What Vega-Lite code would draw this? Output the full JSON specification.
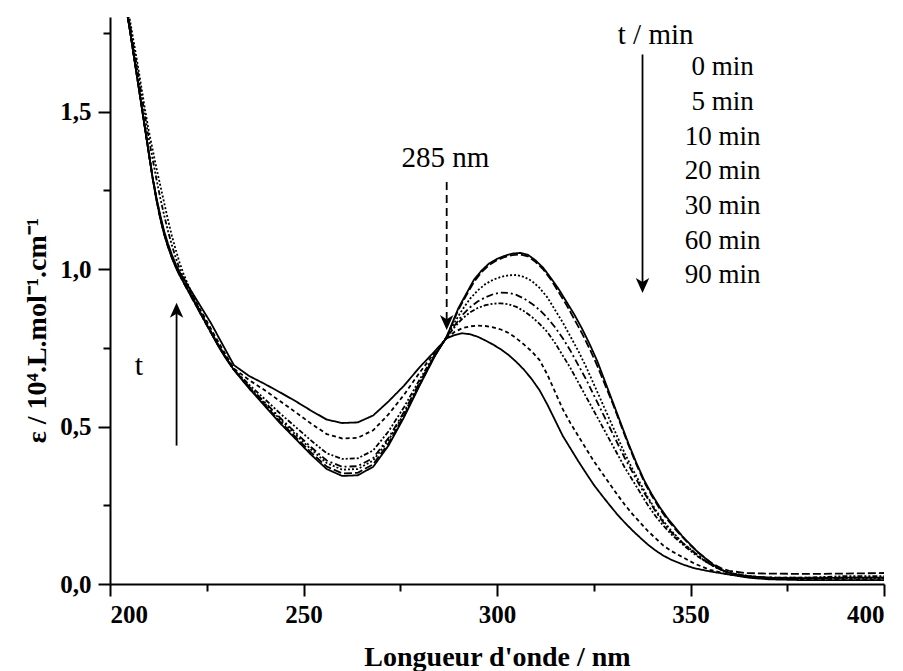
{
  "$schema": "https://vega.github.io/schema/vega-lite/v6.json",
  "width": 774,
  "height": 567,
  "autosize": "none",
  "padding": {"left": 110, "top": 17, "right": 19, "bottom": 87},
  "background": "white",
  "config": {
    "view": {"stroke": null},
    "font": "Liberation Serif",
    "axis": {
      "grid": false,
      "domainColor": "black",
      "domainWidth": 2,
      "tickColor": "black",
      "tickWidth": 2,
      "labelFont": "Liberation Serif",
      "labelFontWeight": "bold",
      "labelFontSize": 25,
      "labelColor": "black",
      "titleFont": "Liberation Serif",
      "titleFontWeight": "bold",
      "titleFontSize": 28,
      "titleColor": "black"
    }
  },
  "datasets": {
    "spectra": [
      {"t":"0 min","nm":204,"e":1.84},{"t":"0 min","nm":205,"e":1.77},{"t":"0 min","nm":206,"e":1.69},{"t":"0 min","nm":207,"e":1.61},{"t":"0 min","nm":208,"e":1.53},{"t":"0 min","nm":209,"e":1.45},{"t":"0 min","nm":210,"e":1.37},{"t":"0 min","nm":211,"e":1.29},{"t":"0 min","nm":212,"e":1.22},{"t":"0 min","nm":213,"e":1.16},{"t":"0 min","nm":214,"e":1.11},{"t":"0 min","nm":215,"e":1.07},{"t":"0 min","nm":216,"e":1.035},{"t":"0 min","nm":217,"e":1.005},{"t":"0 min","nm":218,"e":0.98},{"t":"0 min","nm":220,"e":0.935},{"t":"0 min","nm":222,"e":0.89},{"t":"0 min","nm":224,"e":0.845},{"t":"0 min","nm":226,"e":0.8},{"t":"0 min","nm":228,"e":0.755},{"t":"0 min","nm":230,"e":0.715},
      {"t":"0 min","nm":232,"e":0.68},{"t":"0 min","nm":236,"e":0.62},{"t":"0 min","nm":240,"e":0.565},{"t":"0 min","nm":244,"e":0.51},{"t":"0 min","nm":248,"e":0.46},{"t":"0 min","nm":252,"e":0.41},{"t":"0 min","nm":256,"e":0.365},{"t":"0 min","nm":260,"e":0.343},{"t":"0 min","nm":264,"e":0.345},{"t":"0 min","nm":268,"e":0.372},{"t":"0 min","nm":272,"e":0.44},{"t":"0 min","nm":276,"e":0.53},{"t":"0 min","nm":280,"e":0.63},{"t":"0 min","nm":284,"e":0.725},{"t":"0 min","nm":287,"e":0.785},{"t":"0 min","nm":290,"e":0.875},{"t":"0 min","nm":292,"e":0.92},{"t":"0 min","nm":294,"e":0.965},{"t":"0 min","nm":296,"e":0.995},{"t":"0 min","nm":298,"e":1.018},{"t":"0 min","nm":300,"e":1.032},{"t":"0 min","nm":302,"e":1.042},{"t":"0 min","nm":304,"e":1.049},{"t":"0 min","nm":306,"e":1.051},{"t":"0 min","nm":308,"e":1.045},{"t":"0 min","nm":310,"e":1.027},{"t":"0 min","nm":312,"e":1.003},{"t":"0 min","nm":314,"e":0.97},{"t":"0 min","nm":316,"e":0.935},{"t":"0 min","nm":318,"e":0.895},{"t":"0 min","nm":320,"e":0.855},{"t":"0 min","nm":322,"e":0.81},{"t":"0 min","nm":324,"e":0.76},{"t":"0 min","nm":326,"e":0.705},{"t":"0 min","nm":328,"e":0.64},{"t":"0 min","nm":330,"e":0.575},{"t":"0 min","nm":332,"e":0.51},{"t":"0 min","nm":334,"e":0.445},{"t":"0 min","nm":336,"e":0.385},{"t":"0 min","nm":338,"e":0.33},{"t":"0 min","nm":340,"e":0.285},{"t":"0 min","nm":342,"e":0.245},{"t":"0 min","nm":344,"e":0.21},{"t":"0 min","nm":346,"e":0.18},{"t":"0 min","nm":348,"e":0.15},{"t":"0 min","nm":350,"e":0.125},{"t":"0 min","nm":352,"e":0.1},{"t":"0 min","nm":354,"e":0.08},{"t":"0 min","nm":356,"e":0.06},{"t":"0 min","nm":358,"e":0.045},{"t":"0 min","nm":360,"e":0.035},{"t":"0 min","nm":364,"e":0.025},{"t":"0 min","nm":370,"e":0.02},{"t":"0 min","nm":380,"e":0.018},{"t":"0 min","nm":390,"e":0.02},{"t":"0 min","nm":400,"e":0.02},

      {"t":"5 min","nm":204,"e":1.84},{"t":"5 min","nm":205,"e":1.77},{"t":"5 min","nm":206,"e":1.69},{"t":"5 min","nm":207,"e":1.61},{"t":"5 min","nm":208,"e":1.53},{"t":"5 min","nm":209,"e":1.45},{"t":"5 min","nm":210,"e":1.37},{"t":"5 min","nm":211,"e":1.29},{"t":"5 min","nm":212,"e":1.22},{"t":"5 min","nm":213,"e":1.16},{"t":"5 min","nm":214,"e":1.11},{"t":"5 min","nm":215,"e":1.07},{"t":"5 min","nm":216,"e":1.038},{"t":"5 min","nm":217,"e":1.008},{"t":"5 min","nm":218,"e":0.982},{"t":"5 min","nm":220,"e":0.936},{"t":"5 min","nm":222,"e":0.89},{"t":"5 min","nm":224,"e":0.845},{"t":"5 min","nm":226,"e":0.8},{"t":"5 min","nm":228,"e":0.756},{"t":"5 min","nm":230,"e":0.716},
      {"t":"5 min","nm":232,"e":0.68},{"t":"5 min","nm":236,"e":0.622},{"t":"5 min","nm":240,"e":0.569},{"t":"5 min","nm":244,"e":0.515},{"t":"5 min","nm":248,"e":0.466},{"t":"5 min","nm":252,"e":0.417},{"t":"5 min","nm":256,"e":0.373},{"t":"5 min","nm":260,"e":0.351},{"t":"5 min","nm":264,"e":0.353},{"t":"5 min","nm":268,"e":0.38},{"t":"5 min","nm":272,"e":0.447},{"t":"5 min","nm":276,"e":0.535},{"t":"5 min","nm":280,"e":0.633},{"t":"5 min","nm":284,"e":0.726},{"t":"5 min","nm":287,"e":0.785},{"t":"5 min","nm":290,"e":0.87},{"t":"5 min","nm":292,"e":0.915},{"t":"5 min","nm":294,"e":0.958},{"t":"5 min","nm":296,"e":0.99},{"t":"5 min","nm":298,"e":1.013},{"t":"5 min","nm":300,"e":1.028},{"t":"5 min","nm":302,"e":1.038},{"t":"5 min","nm":304,"e":1.044},{"t":"5 min","nm":306,"e":1.046},{"t":"5 min","nm":308,"e":1.04},{"t":"5 min","nm":310,"e":1.022},{"t":"5 min","nm":312,"e":0.998},{"t":"5 min","nm":314,"e":0.965},{"t":"5 min","nm":316,"e":0.925},{"t":"5 min","nm":318,"e":0.885},{"t":"5 min","nm":320,"e":0.84},{"t":"5 min","nm":322,"e":0.795},{"t":"5 min","nm":324,"e":0.745},{"t":"5 min","nm":326,"e":0.69},{"t":"5 min","nm":328,"e":0.63},{"t":"5 min","nm":330,"e":0.57},{"t":"5 min","nm":332,"e":0.505},{"t":"5 min","nm":334,"e":0.44},{"t":"5 min","nm":336,"e":0.38},{"t":"5 min","nm":338,"e":0.325},{"t":"5 min","nm":340,"e":0.28},{"t":"5 min","nm":342,"e":0.24},{"t":"5 min","nm":344,"e":0.205},{"t":"5 min","nm":346,"e":0.175},{"t":"5 min","nm":348,"e":0.148},{"t":"5 min","nm":350,"e":0.123},{"t":"5 min","nm":352,"e":0.1},{"t":"5 min","nm":354,"e":0.08},{"t":"5 min","nm":356,"e":0.062},{"t":"5 min","nm":358,"e":0.05},{"t":"5 min","nm":360,"e":0.042},{"t":"5 min","nm":364,"e":0.035},{"t":"5 min","nm":370,"e":0.033},{"t":"5 min","nm":380,"e":0.032},{"t":"5 min","nm":390,"e":0.033},{"t":"5 min","nm":400,"e":0.035},

      {"t":"10 min","nm":204,"e":1.87},{"t":"10 min","nm":205,"e":1.8},{"t":"10 min","nm":206,"e":1.73},{"t":"10 min","nm":207,"e":1.66},{"t":"10 min","nm":208,"e":1.585},{"t":"10 min","nm":209,"e":1.51},{"t":"10 min","nm":210,"e":1.44},{"t":"10 min","nm":211,"e":1.38},{"t":"10 min","nm":212,"e":1.32},{"t":"10 min","nm":213,"e":1.265},{"t":"10 min","nm":214,"e":1.21},{"t":"10 min","nm":215,"e":1.155},{"t":"10 min","nm":216,"e":1.105},{"t":"10 min","nm":217,"e":1.06},{"t":"10 min","nm":218,"e":1.02},{"t":"10 min","nm":219,"e":0.985},{"t":"10 min","nm":220,"e":0.955},{"t":"10 min","nm":222,"e":0.9},{"t":"10 min","nm":224,"e":0.85},{"t":"10 min","nm":226,"e":0.803},{"t":"10 min","nm":228,"e":0.758},{"t":"10 min","nm":230,"e":0.718},
      {"t":"10 min","nm":232,"e":0.68},{"t":"10 min","nm":236,"e":0.625},{"t":"10 min","nm":240,"e":0.573},{"t":"10 min","nm":244,"e":0.522},{"t":"10 min","nm":248,"e":0.474},{"t":"10 min","nm":252,"e":0.427},{"t":"10 min","nm":256,"e":0.384},{"t":"10 min","nm":260,"e":0.363},{"t":"10 min","nm":264,"e":0.365},{"t":"10 min","nm":268,"e":0.392},{"t":"10 min","nm":272,"e":0.457},{"t":"10 min","nm":276,"e":0.542},{"t":"10 min","nm":280,"e":0.637},{"t":"10 min","nm":284,"e":0.727},{"t":"10 min","nm":287,"e":0.785},{"t":"10 min","nm":289,"e":0.83},{"t":"10 min","nm":291,"e":0.87},{"t":"10 min","nm":293,"e":0.905},{"t":"10 min","nm":295,"e":0.932},{"t":"10 min","nm":297,"e":0.952},{"t":"10 min","nm":299,"e":0.966},{"t":"10 min","nm":301,"e":0.975},{"t":"10 min","nm":303,"e":0.98},{"t":"10 min","nm":305,"e":0.981},{"t":"10 min","nm":307,"e":0.975},{"t":"10 min","nm":309,"e":0.962},{"t":"10 min","nm":311,"e":0.94},{"t":"10 min","nm":313,"e":0.91},{"t":"10 min","nm":315,"e":0.87},{"t":"10 min","nm":317,"e":0.83},{"t":"10 min","nm":319,"e":0.785},{"t":"10 min","nm":321,"e":0.74},{"t":"10 min","nm":323,"e":0.69},{"t":"10 min","nm":325,"e":0.635},{"t":"10 min","nm":327,"e":0.58},{"t":"10 min","nm":329,"e":0.525},{"t":"10 min","nm":331,"e":0.47},{"t":"10 min","nm":333,"e":0.415},{"t":"10 min","nm":335,"e":0.365},{"t":"10 min","nm":337,"e":0.32},{"t":"10 min","nm":339,"e":0.275},{"t":"10 min","nm":341,"e":0.235},{"t":"10 min","nm":343,"e":0.2},{"t":"10 min","nm":345,"e":0.17},{"t":"10 min","nm":348,"e":0.13},{"t":"10 min","nm":351,"e":0.1},{"t":"10 min","nm":354,"e":0.07},{"t":"10 min","nm":357,"e":0.05},{"t":"10 min","nm":360,"e":0.035},{"t":"10 min","nm":365,"e":0.025},{"t":"10 min","nm":370,"e":0.02},{"t":"10 min","nm":380,"e":0.018},{"t":"10 min","nm":390,"e":0.018},{"t":"10 min","nm":400,"e":0.018},

      {"t":"20 min","nm":204,"e":1.84},{"t":"20 min","nm":205,"e":1.77},{"t":"20 min","nm":206,"e":1.69},{"t":"20 min","nm":207,"e":1.612},{"t":"20 min","nm":208,"e":1.532},{"t":"20 min","nm":209,"e":1.452},{"t":"20 min","nm":210,"e":1.372},{"t":"20 min","nm":211,"e":1.295},{"t":"20 min","nm":212,"e":1.225},{"t":"20 min","nm":213,"e":1.165},{"t":"20 min","nm":214,"e":1.113},{"t":"20 min","nm":215,"e":1.072},{"t":"20 min","nm":216,"e":1.036},{"t":"20 min","nm":217,"e":1.005},{"t":"20 min","nm":218,"e":0.98},{"t":"20 min","nm":220,"e":0.934},{"t":"20 min","nm":222,"e":0.889},{"t":"20 min","nm":224,"e":0.844},{"t":"20 min","nm":226,"e":0.8},{"t":"20 min","nm":228,"e":0.756},{"t":"20 min","nm":230,"e":0.717},
      {"t":"20 min","nm":232,"e":0.681},{"t":"20 min","nm":236,"e":0.626},{"t":"20 min","nm":240,"e":0.577},{"t":"20 min","nm":244,"e":0.527},{"t":"20 min","nm":248,"e":0.48},{"t":"20 min","nm":252,"e":0.434},{"t":"20 min","nm":256,"e":0.392},{"t":"20 min","nm":260,"e":0.372},{"t":"20 min","nm":264,"e":0.374},{"t":"20 min","nm":268,"e":0.4},{"t":"20 min","nm":272,"e":0.464},{"t":"20 min","nm":276,"e":0.547},{"t":"20 min","nm":280,"e":0.64},{"t":"20 min","nm":284,"e":0.728},{"t":"20 min","nm":287,"e":0.784},{"t":"20 min","nm":289,"e":0.82},{"t":"20 min","nm":291,"e":0.853},{"t":"20 min","nm":293,"e":0.878},{"t":"20 min","nm":295,"e":0.897},{"t":"20 min","nm":297,"e":0.91},{"t":"20 min","nm":299,"e":0.92},{"t":"20 min","nm":301,"e":0.925},{"t":"20 min","nm":303,"e":0.924},{"t":"20 min","nm":305,"e":0.918},{"t":"20 min","nm":307,"e":0.906},{"t":"20 min","nm":309,"e":0.89},{"t":"20 min","nm":311,"e":0.87},{"t":"20 min","nm":313,"e":0.845},{"t":"20 min","nm":315,"e":0.815},{"t":"20 min","nm":317,"e":0.78},{"t":"20 min","nm":319,"e":0.74},{"t":"20 min","nm":321,"e":0.695},{"t":"20 min","nm":323,"e":0.65},{"t":"20 min","nm":325,"e":0.6},{"t":"20 min","nm":327,"e":0.55},{"t":"20 min","nm":329,"e":0.5},{"t":"20 min","nm":331,"e":0.45},{"t":"20 min","nm":333,"e":0.4},{"t":"20 min","nm":335,"e":0.355},{"t":"20 min","nm":337,"e":0.31},{"t":"20 min","nm":339,"e":0.27},{"t":"20 min","nm":341,"e":0.23},{"t":"20 min","nm":343,"e":0.195},{"t":"20 min","nm":345,"e":0.165},{"t":"20 min","nm":348,"e":0.13},{"t":"20 min","nm":351,"e":0.1},{"t":"20 min","nm":354,"e":0.072},{"t":"20 min","nm":357,"e":0.05},{"t":"20 min","nm":360,"e":0.035},{"t":"20 min","nm":365,"e":0.025},{"t":"20 min","nm":370,"e":0.02},{"t":"20 min","nm":380,"e":0.02},{"t":"20 min","nm":390,"e":0.02},{"t":"20 min","nm":400,"e":0.02},

      {"t":"30 min","nm":204,"e":1.86},{"t":"30 min","nm":205,"e":1.79},{"t":"30 min","nm":206,"e":1.715},{"t":"30 min","nm":207,"e":1.64},{"t":"30 min","nm":208,"e":1.565},{"t":"30 min","nm":209,"e":1.49},{"t":"30 min","nm":210,"e":1.415},{"t":"30 min","nm":211,"e":1.35},{"t":"30 min","nm":212,"e":1.285},{"t":"30 min","nm":213,"e":1.225},{"t":"30 min","nm":214,"e":1.17},{"t":"30 min","nm":215,"e":1.12},{"t":"30 min","nm":216,"e":1.075},{"t":"30 min","nm":217,"e":1.035},{"t":"30 min","nm":218,"e":1.0},{"t":"30 min","nm":220,"e":0.945},{"t":"30 min","nm":222,"e":0.895},{"t":"30 min","nm":224,"e":0.848},{"t":"30 min","nm":226,"e":0.803},{"t":"30 min","nm":228,"e":0.76},{"t":"30 min","nm":230,"e":0.72},
      {"t":"30 min","nm":232,"e":0.682},{"t":"30 min","nm":236,"e":0.632},{"t":"30 min","nm":240,"e":0.587},{"t":"30 min","nm":244,"e":0.541},{"t":"30 min","nm":248,"e":0.498},{"t":"30 min","nm":252,"e":0.455},{"t":"30 min","nm":256,"e":0.415},{"t":"30 min","nm":260,"e":0.397},{"t":"30 min","nm":264,"e":0.399},{"t":"30 min","nm":268,"e":0.424},{"t":"30 min","nm":272,"e":0.485},{"t":"30 min","nm":276,"e":0.562},{"t":"30 min","nm":280,"e":0.649},{"t":"30 min","nm":284,"e":0.73},{"t":"30 min","nm":287,"e":0.783},{"t":"30 min","nm":289,"e":0.815},{"t":"30 min","nm":291,"e":0.842},{"t":"30 min","nm":293,"e":0.862},{"t":"30 min","nm":295,"e":0.876},{"t":"30 min","nm":297,"e":0.885},{"t":"30 min","nm":299,"e":0.89},{"t":"30 min","nm":301,"e":0.891},{"t":"30 min","nm":303,"e":0.888},{"t":"30 min","nm":305,"e":0.88},{"t":"30 min","nm":307,"e":0.866},{"t":"30 min","nm":309,"e":0.848},{"t":"30 min","nm":311,"e":0.826},{"t":"30 min","nm":313,"e":0.8},{"t":"30 min","nm":315,"e":0.765},{"t":"30 min","nm":317,"e":0.725},{"t":"30 min","nm":319,"e":0.685},{"t":"30 min","nm":321,"e":0.64},{"t":"30 min","nm":323,"e":0.595},{"t":"30 min","nm":325,"e":0.55},{"t":"30 min","nm":327,"e":0.505},{"t":"30 min","nm":329,"e":0.46},{"t":"30 min","nm":331,"e":0.415},{"t":"30 min","nm":333,"e":0.37},{"t":"30 min","nm":335,"e":0.33},{"t":"30 min","nm":337,"e":0.29},{"t":"30 min","nm":339,"e":0.25},{"t":"30 min","nm":341,"e":0.215},{"t":"30 min","nm":343,"e":0.185},{"t":"30 min","nm":345,"e":0.158},{"t":"30 min","nm":348,"e":0.125},{"t":"30 min","nm":351,"e":0.095},{"t":"30 min","nm":354,"e":0.07},{"t":"30 min","nm":357,"e":0.05},{"t":"30 min","nm":360,"e":0.035},{"t":"30 min","nm":365,"e":0.025},{"t":"30 min","nm":370,"e":0.02},{"t":"30 min","nm":380,"e":0.02},{"t":"30 min","nm":390,"e":0.025},{"t":"30 min","nm":400,"e":0.025},

      {"t":"60 min","nm":204,"e":1.84},{"t":"60 min","nm":205,"e":1.77},{"t":"60 min","nm":206,"e":1.69},{"t":"60 min","nm":207,"e":1.61},{"t":"60 min","nm":208,"e":1.53},{"t":"60 min","nm":209,"e":1.45},{"t":"60 min","nm":210,"e":1.37},{"t":"60 min","nm":211,"e":1.29},{"t":"60 min","nm":212,"e":1.222},{"t":"60 min","nm":213,"e":1.163},{"t":"60 min","nm":214,"e":1.113},{"t":"60 min","nm":215,"e":1.073},{"t":"60 min","nm":216,"e":1.04},{"t":"60 min","nm":217,"e":1.01},{"t":"60 min","nm":218,"e":0.985},{"t":"60 min","nm":220,"e":0.942},{"t":"60 min","nm":222,"e":0.9},{"t":"60 min","nm":224,"e":0.857},{"t":"60 min","nm":226,"e":0.812},{"t":"60 min","nm":228,"e":0.768},{"t":"60 min","nm":230,"e":0.726},
      {"t":"60 min","nm":232,"e":0.684},{"t":"60 min","nm":236,"e":0.647},{"t":"60 min","nm":240,"e":0.615},{"t":"60 min","nm":244,"e":0.58},{"t":"60 min","nm":248,"e":0.545},{"t":"60 min","nm":252,"e":0.509},{"t":"60 min","nm":256,"e":0.476},{"t":"60 min","nm":260,"e":0.462},{"t":"60 min","nm":264,"e":0.464},{"t":"60 min","nm":268,"e":0.488},{"t":"60 min","nm":272,"e":0.539},{"t":"60 min","nm":276,"e":0.601},{"t":"60 min","nm":280,"e":0.671},{"t":"60 min","nm":284,"e":0.736},{"t":"60 min","nm":287,"e":0.781},{"t":"60 min","nm":289,"e":0.8},{"t":"60 min","nm":291,"e":0.812},{"t":"60 min","nm":293,"e":0.818},{"t":"60 min","nm":295,"e":0.82},{"t":"60 min","nm":297,"e":0.819},{"t":"60 min","nm":299,"e":0.815},{"t":"60 min","nm":301,"e":0.808},{"t":"60 min","nm":303,"e":0.797},{"t":"60 min","nm":305,"e":0.78},{"t":"60 min","nm":307,"e":0.76},{"t":"60 min","nm":309,"e":0.738},{"t":"60 min","nm":311,"e":0.711},{"t":"60 min","nm":313,"e":0.665},{"t":"60 min","nm":315,"e":0.61},{"t":"60 min","nm":317,"e":0.555},{"t":"60 min","nm":319,"e":0.51},{"t":"60 min","nm":321,"e":0.47},{"t":"60 min","nm":323,"e":0.43},{"t":"60 min","nm":325,"e":0.39},{"t":"60 min","nm":327,"e":0.355},{"t":"60 min","nm":329,"e":0.32},{"t":"60 min","nm":331,"e":0.285},{"t":"60 min","nm":333,"e":0.252},{"t":"60 min","nm":335,"e":0.222},{"t":"60 min","nm":337,"e":0.195},{"t":"60 min","nm":339,"e":0.168},{"t":"60 min","nm":341,"e":0.145},{"t":"60 min","nm":343,"e":0.122},{"t":"60 min","nm":345,"e":0.105},{"t":"60 min","nm":348,"e":0.085},{"t":"60 min","nm":351,"e":0.065},{"t":"60 min","nm":355,"e":0.045},{"t":"60 min","nm":360,"e":0.03},{"t":"60 min","nm":365,"e":0.022},{"t":"60 min","nm":370,"e":0.018},{"t":"60 min","nm":380,"e":0.015},{"t":"60 min","nm":390,"e":0.015},{"t":"60 min","nm":400,"e":0.015},

      {"t":"90 min","nm":204,"e":1.84},{"t":"90 min","nm":205,"e":1.77},{"t":"90 min","nm":206,"e":1.69},{"t":"90 min","nm":207,"e":1.61},{"t":"90 min","nm":208,"e":1.53},{"t":"90 min","nm":209,"e":1.45},{"t":"90 min","nm":210,"e":1.37},{"t":"90 min","nm":211,"e":1.29},{"t":"90 min","nm":212,"e":1.225},{"t":"90 min","nm":213,"e":1.17},{"t":"90 min","nm":214,"e":1.12},{"t":"90 min","nm":215,"e":1.08},{"t":"90 min","nm":216,"e":1.045},{"t":"90 min","nm":217,"e":1.015},{"t":"90 min","nm":218,"e":0.99},{"t":"90 min","nm":220,"e":0.95},{"t":"90 min","nm":222,"e":0.91},{"t":"90 min","nm":224,"e":0.87},{"t":"90 min","nm":226,"e":0.83},{"t":"90 min","nm":228,"e":0.785},{"t":"90 min","nm":230,"e":0.74},
      {"t":"90 min","nm":232,"e":0.695},{"t":"90 min","nm":236,"e":0.66},{"t":"90 min","nm":240,"e":0.635},{"t":"90 min","nm":244,"e":0.608},{"t":"90 min","nm":248,"e":0.58},{"t":"90 min","nm":252,"e":0.55},{"t":"90 min","nm":256,"e":0.522},{"t":"90 min","nm":260,"e":0.511},{"t":"90 min","nm":264,"e":0.513},{"t":"90 min","nm":268,"e":0.535},{"t":"90 min","nm":272,"e":0.58},{"t":"90 min","nm":276,"e":0.63},{"t":"90 min","nm":280,"e":0.688},{"t":"90 min","nm":284,"e":0.74},{"t":"90 min","nm":287,"e":0.78},{"t":"90 min","nm":289,"e":0.79},{"t":"90 min","nm":291,"e":0.796},{"t":"90 min","nm":293,"e":0.793},{"t":"90 min","nm":295,"e":0.785},{"t":"90 min","nm":297,"e":0.773},{"t":"90 min","nm":299,"e":0.76},{"t":"90 min","nm":301,"e":0.745},{"t":"90 min","nm":303,"e":0.727},{"t":"90 min","nm":305,"e":0.705},{"t":"90 min","nm":307,"e":0.68},{"t":"90 min","nm":309,"e":0.65},{"t":"90 min","nm":311,"e":0.615},{"t":"90 min","nm":313,"e":0.57},{"t":"90 min","nm":315,"e":0.52},{"t":"90 min","nm":317,"e":0.47},{"t":"90 min","nm":319,"e":0.43},{"t":"90 min","nm":321,"e":0.39},{"t":"90 min","nm":323,"e":0.352},{"t":"90 min","nm":325,"e":0.315},{"t":"90 min","nm":327,"e":0.283},{"t":"90 min","nm":329,"e":0.252},{"t":"90 min","nm":331,"e":0.222},{"t":"90 min","nm":333,"e":0.195},{"t":"90 min","nm":335,"e":0.17},{"t":"90 min","nm":337,"e":0.147},{"t":"90 min","nm":339,"e":0.125},{"t":"90 min","nm":341,"e":0.106},{"t":"90 min","nm":343,"e":0.09},{"t":"90 min","nm":345,"e":0.077},{"t":"90 min","nm":348,"e":0.062},{"t":"90 min","nm":351,"e":0.05},{"t":"90 min","nm":355,"e":0.04},{"t":"90 min","nm":360,"e":0.03},{"t":"90 min","nm":365,"e":0.02},{"t":"90 min","nm":370,"e":0.015},{"t":"90 min","nm":380,"e":0.012},{"t":"90 min","nm":390,"e":0.012},{"t":"90 min","nm":400,"e":0.012}
    ]
  },
  "resolve": {"axis": {"x": "independent", "y": "independent"}},
  "layer": [
    {
      "data": {"name": "spectra"},
      "mark": {"type": "line", "color": "black", "strokeWidth": 1.8, "clip": true},
      "encoding": {
        "x": {"field": "nm", "type": "quantitative",
          "scale": {"domain": [200, 400], "nice": false, "zero": false},
          "axis": {"orient": "bottom", "values": [200, 250, 300, 350, 400], "tickSize": 12, "labelPadding": 6,
            "title": "Longueur d'onde / nm", "titleX": 387, "titleY": 81, "titleAlign": "center", "titleBaseline": "alphabetic", "titleAnchor": null}},
        "y": {"field": "e", "type": "quantitative",
          "scale": {"domain": [0, 1.8], "nice": false, "zero": false},
          "axis": {"orient": "left", "values": [0, 0.5, 1, 1.5], "tickSize": 12, "labelPadding": 7,
            "labelExpr": "replace(format(datum.value, '.1f'), '.', ',')",
            "title": "ε / 10⁴.L.mol⁻¹.cm⁻¹", "titleX": -65, "titleY": 313, "titleAngle": -90, "titleAlign": "center", "titleBaseline": "alphabetic"}},
        "strokeDash": {"field": "t", "type": "nominal", "legend": null,
          "scale": {"domain": ["0 min", "5 min", "10 min", "20 min", "30 min", "60 min", "90 min"],
            "range": [[1, 0], [8, 3], [2, 2], [7, 3, 2, 3], [5, 2, 2, 2, 2, 2], [4, 3], [1, 0]]}}
      }
    },
    {
      "data": {"values": [{}]},
      "mark": {"type": "point", "opacity": 0},
      "encoding": {
        "x": {"datum": 300, "type": "quantitative", "scale": {"domain": [200, 400], "nice": false, "zero": false},
          "axis": {"orient": "bottom", "values": [225, 275, 325, 375], "tickSize": 7, "labels": false, "domain": false, "title": null}},
        "y": {"datum": 1, "type": "quantitative", "scale": {"domain": [0, 1.8], "nice": false, "zero": false},
          "axis": {"orient": "left", "values": [0.25, 0.75, 1.25, 1.75], "tickSize": 7, "labels": false, "domain": false, "title": null}}
      }
    },
    {
      "data": {"values": [{}]},
      "mark": {"type": "text", "font": "Liberation Serif", "fontSize": 29, "align": "center", "baseline": "alphabetic", "color": "black"},
      "encoding": {
        "x": {"datum": 341.0, "type": "quantitative", "axis": null},
        "y": {"datum": 1.715, "type": "quantitative", "axis": null},
        "text": {"value": "t / min"}
      }
    },
    {
      "data": {"values": [{}]},
      "mark": {"type": "text", "font": "Liberation Serif", "fontSize": 27, "align": "center", "baseline": "alphabetic", "color": "black", "lineHeight": 34.7},
      "encoding": {
        "x": {"datum": 358.3, "type": "quantitative", "axis": null},
        "y": {"datum": 1.615, "type": "quantitative", "axis": null},
        "text": {"value": ["0 min", "5 min", "10 min", "20 min", "30 min", "60 min", "90 min"]}
      }
    },
    {
      "data": {"values": [{}]},
      "mark": {"type": "text", "font": "Liberation Serif", "fontSize": 29, "align": "center", "baseline": "alphabetic", "color": "black"},
      "encoding": {
        "x": {"datum": 286.7, "type": "quantitative", "axis": null},
        "y": {"datum": 1.324, "type": "quantitative", "axis": null},
        "text": {"value": "285 nm"}
      }
    },
    {
      "data": {"values": [{}]},
      "mark": {"type": "text", "font": "Liberation Serif", "fontSize": 30, "align": "center", "baseline": "alphabetic", "color": "black"},
      "encoding": {
        "x": {"datum": 207.5, "type": "quantitative", "axis": null},
        "y": {"datum": 0.663, "type": "quantitative", "axis": null},
        "text": {"value": "t"}
      }
    },
    {
      "data": {"values": [{}]},
      "mark": {"type": "rule", "color": "black", "strokeWidth": 1.8},
      "encoding": {
        "x": {"datum": 337.6, "type": "quantitative", "axis": null},
        "y": {"datum": 1.681, "type": "quantitative", "axis": null},
        "y2": {"datum": 0.95}
      }
    },
    {
      "data": {"values": [{}]},
      "mark": {"type": "rule", "color": "black", "strokeWidth": 1.8},
      "encoding": {
        "x": {"datum": 217.2, "type": "quantitative", "axis": null},
        "y": {"datum": 0.4394, "type": "quantitative", "axis": null},
        "y2": {"datum": 0.87}
      }
    },
    {
      "data": {"values": [{}]},
      "mark": {"type": "rule", "color": "black", "strokeWidth": 1.8, "strokeDash": [8, 5]},
      "encoding": {
        "x": {"datum": 287.0, "type": "quantitative", "axis": null},
        "y": {"datum": 1.2765, "type": "quantitative", "axis": null},
        "y2": {"datum": 0.84}
      }
    },
    {
      "data": {"values": [{}]},
      "mark": {"type": "point", "shape": "M0,1L-0.9,-1L0,-0.45L0.9,-1Z", "size": 225, "filled": true, "color": "black", "opacity": 1, "strokeWidth": 0},
      "encoding": {
        "x": {"datum": 337.6, "type": "quantitative", "axis": null},
        "y": {"datum": 0.948, "type": "quantitative", "axis": null}
      }
    },
    {
      "data": {"values": [{}]},
      "mark": {"type": "point", "shape": "M0,1L-0.9,-1L0,-0.45L0.9,-1Z", "size": 225, "filled": true, "color": "black", "opacity": 1, "strokeWidth": 0},
      "encoding": {
        "x": {"datum": 287.0, "type": "quantitative", "axis": null},
        "y": {"datum": 0.83, "type": "quantitative", "axis": null}
      }
    },
    {
      "data": {"values": [{}]},
      "mark": {"type": "point", "shape": "M0,-1L-0.9,1L0,0.45L0.9,1Z", "size": 225, "filled": true, "color": "black", "opacity": 1, "strokeWidth": 0},
      "encoding": {
        "x": {"datum": 217.2, "type": "quantitative", "axis": null},
        "y": {"datum": 0.869, "type": "quantitative", "axis": null}
      }
    }
  ]
}
